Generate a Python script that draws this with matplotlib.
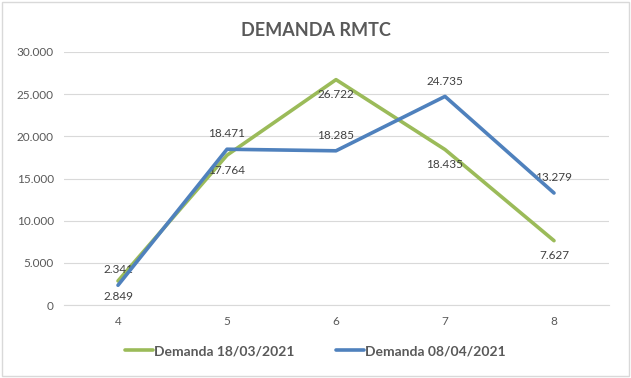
import matplotlib
matplotlib.use("Agg")
import matplotlib.pyplot as plt
from matplotlib.patches import Rectangle

plt.rcParams['font.family'] = ['Lato', 'DejaVu Sans']

categories = ["4", "5", "6", "7", "8"]
serie_1803 = [2849, 17764, 26722, 18435, 7627]
serie_0804 = [2341, 18471, 18285, 24735, 13279]
label_1803 = "Demanda 18/03/2021"
label_0804 = "Demanda 08/04/2021"
title = "DEMANDA RMTC"

def fmt(v):
    return f"{v:,.0f}".replace(",", ".")

W, H = 631, 378
fig = plt.figure(figsize=(W / 100, H / 100), dpi=100)
fig.patches.append(Rectangle((2 / W, 2 / H), 1 - 4 / W, 1 - 4 / H, transform=fig.transFigure,
                             fill=False, edgecolor="#d9d9d9", linewidth=1))
ax = fig.add_axes([63.5 / W, 1 - 305 / H, (608.5 - 63.5) / W, (305 - 52) / H])

x = list(range(len(categories)))
green = "#9BBB59"
blue = "#4F81BD"
ax.plot(x, serie_1803, color=green, linewidth=2.6, solid_capstyle="round", label=label_1803, zorder=3)
ax.plot(x, serie_0804, color=blue, linewidth=2.6, solid_capstyle="round", label=label_0804, zorder=4)

for xi, v in zip(x, serie_1803):
    ax.annotate(fmt(v), (xi, v), xytext=(0, -11), textcoords="offset points",
                ha="center", va="center", fontsize=8.5, color="#404040")
for xi, v in zip(x, serie_0804):
    ax.annotate(fmt(v), (xi, v), xytext=(0, 11), textcoords="offset points",
                ha="center", va="center", fontsize=8.5, color="#404040")

ax.set_xlim(-0.5, len(categories) - 0.5)
ax.set_ylim(0, 30000)
ax.set_yticks(range(0, 30001, 5000))
ax.set_yticklabels([fmt(v) for v in range(0, 30001, 5000)])
ax.set_xticks(x)
ax.set_xticklabels(categories)
ax.tick_params(axis="both", length=0, labelsize=8.5, colors="#595959")
ax.tick_params(axis="y", pad=7)
ax.tick_params(axis="x", pad=8)
ax.grid(axis="y", color="#d9d9d9", linewidth=0.8)
ax.set_axisbelow(True)
for s in ["top", "right", "left"]:
    ax.spines[s].set_visible(False)
ax.spines["bottom"].set_color("#d9d9d9")
ax.spines["bottom"].set_linewidth(0.8)

fig.text(0.5, 1 - 30 / H, title, ha="center", va="center", fontsize=13, fontweight="bold", color="#595959")

leg = fig.legend(loc="center", bbox_to_anchor=(0.5, 1 - 351 / H), ncol=2, frameon=False,
                 prop={"size": 10, "weight": "bold"}, handlelength=2.0, columnspacing=3.0, handletextpad=0.1)
for t in leg.get_texts():
    t.set_color("#595959")

fig.savefig("out.png", dpi=100)
